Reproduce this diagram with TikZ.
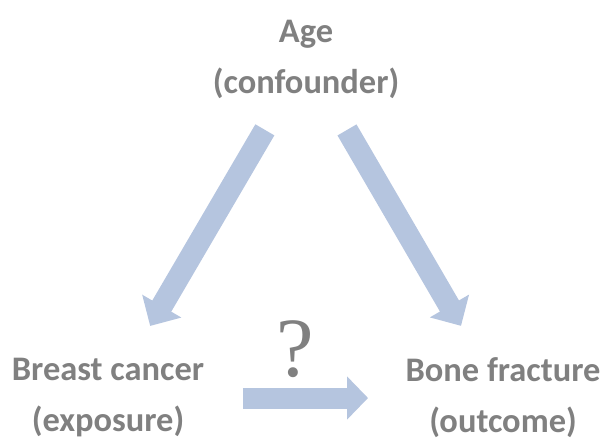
\documentclass[tikz,border=0pt]{standalone}
\usepackage{fontspec}
\setmainfont{Carlito}
\newfontfamily\qfont{Liberation Serif}
\usepackage{tikz}
\usetikzlibrary{arrows.meta, positioning}
\definecolor{arrowblue}{RGB}{181,197,223}
\definecolor{labelgray}{RGB}{128,128,128}
\tikzset{
    label/.style={align=center, text=labelgray, font=\fontsize{19.6}{29}\selectfont\bfseries},
    qmark/.style={inner sep=0pt, text=labelgray, font=\fontsize{48}{56}\selectfont\qfont},
    bigarrow/.style={draw=arrowblue, line width=0.44cm, -{Triangle[width=0.88cm, length=0.46cm]}}
}

\begin{document}
\begin{tikzpicture}[x=0.02cm, y=-0.02cm]
        \useasboundingbox (0,0) rectangle (601,440);
        % Nodes
        \node (age) [label] at (306,59.5) {Age\\(confounder)};
        \node (exposure) [label] at (108,398) {Breast cancer\\(exposure)};
        \node (outcome) [label] at (503,398) {Bone fracture\\(outcome)};

        % Connections
        \draw [bigarrow, shorten <=1.63cm, shorten >=1.67cm] (age.center) -- (exposure.center);
        \draw [bigarrow, shorten <=1.63cm, shorten >=1.67cm] (age.center) -- (outcome.center);
        \draw [bigarrow, line width=0.42cm, -{Triangle[width=0.84cm, length=0.42cm]}, shorten <=2.7cm, shorten >=2.7cm]
            (exposure.center) -- node[qmark, above=0.2cm, xshift=-0.2cm] (qm) {?} (outcome.center);
    \end{tikzpicture}
\end{document}
